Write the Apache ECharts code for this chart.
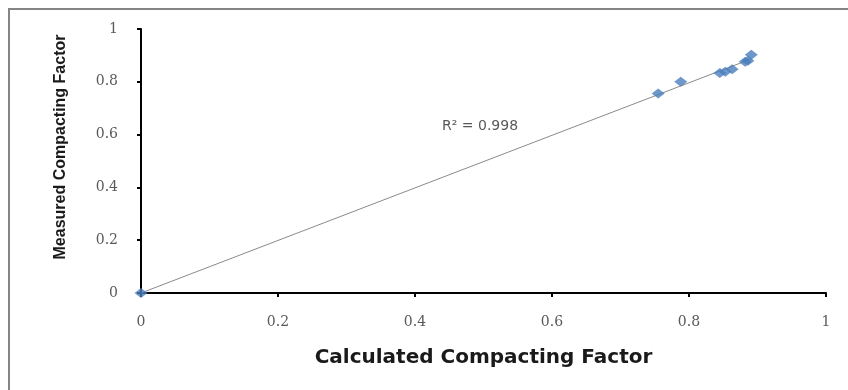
<!DOCTYPE html>
<html>
<head>
<meta charset="utf-8">
<script src="https://cdn.jsdelivr.net/npm/echarts@6/dist/echarts.min.js"></script>
<style>html,body{margin:0;padding:0;background:#fff;}#c{width:848px;height:390px;}</style>
</head>
<body>
<div id="c"></div>
<script>
var calculated = [0, 0.755, 0.788, 0.845, 0.853, 0.863, 0.882, 0.886, 0.891];
var measured   = [0, 0.756, 0.800, 0.833, 0.838, 0.848, 0.876, 0.880, 0.902];
var xTicks = [0, 0.2, 0.4, 0.6, 0.8, 1];
var yTicks = [0, 0.2, 0.4, 0.6, 0.8, 1];
var rSquaredText = 'R\u00b2 = 0.998';

var pts = calculated.map(function (x, i) { return [x, measured[i]]; });
// least-squares trendline through the origin
var sxx = 0, sxy = 0;
pts.forEach(function (p) { sxx += p[0] * p[0]; sxy += p[0] * p[1]; });
var slope = sxy / sxx;
var xmin = Math.min.apply(null, calculated), xmax = Math.max.apply(null, calculated);
var trend = [[xmin, slope * xmin], [xmax, slope * xmax]];

var chart = echarts.init(document.getElementById('c'));
var tickLabel = { color: '#595959', fontFamily: 'DejaVu Serif', fontSize: 14 };
chart.setOption({
  animation: false,
  grid: { left: 141, right: 22, top: 29, bottom: 97 },
  graphic: [
    { type: 'rect', shape: { x: 9, y: 9, width: 860, height: 400 }, style: { fill: 'none', stroke: '#858585', lineWidth: 2 }, silent: true },
    { type: 'text', left: 442, top: 119, style: { text: rSquaredText, fill: '#595959', font: '14px "DejaVu Sans"' } }
  ],
  xAxis: {
    type: 'value', min: 0, max: 1, interval: 0.2,
    name: 'Calculated Compacting Factor', nameLocation: 'middle', nameGap: 55,
    nameTextStyle: { fontFamily: 'DejaVu Sans', fontWeight: 'bold', fontSize: 20, color: '#1a1a1a' },
    axisLine: { lineStyle: { color: '#000', width: 2 } },
    axisTick: { show: true, length: 4, lineStyle: { color: '#000', width: 2 } },
    axisLabel: Object.assign({ margin: 22, formatter: function (v) { return xTicks.indexOf(v) >= 0 ? String(v) : ''; } }, tickLabel),
    splitLine: { show: false }
  },
  yAxis: {
    type: 'value', min: 0, max: 1, interval: 0.2,
    name: 'Measured Compacting Factor', nameLocation: 'middle', nameGap: 72,
    nameTextStyle: { fontFamily: 'Liberation Sans', fontWeight: 'bold', fontSize: 16, color: '#1a1a1a', padding: [0, 0, 0, 28] },
    axisLine: { show: true, lineStyle: { color: '#000', width: 2 } },
    axisTick: { show: true, length: 4, lineStyle: { color: '#000', width: 2 } },
    axisLabel: Object.assign({ margin: 23, formatter: function (v) { return yTicks.indexOf(v) >= 0 ? String(v) : ''; } }, tickLabel),
    splitLine: { show: false }
  },
  series: [
    { type: 'line', data: trend, symbol: 'none', lineStyle: { color: '#8a8a8a', width: 1 }, silent: true, z: 1 },
    { type: 'scatter', data: pts, symbol: 'diamond', symbolSize: [13, 10], itemStyle: { color: '#4a7ebb' }, z: 2 }
  ]
});
</script>
</body>
</html>
